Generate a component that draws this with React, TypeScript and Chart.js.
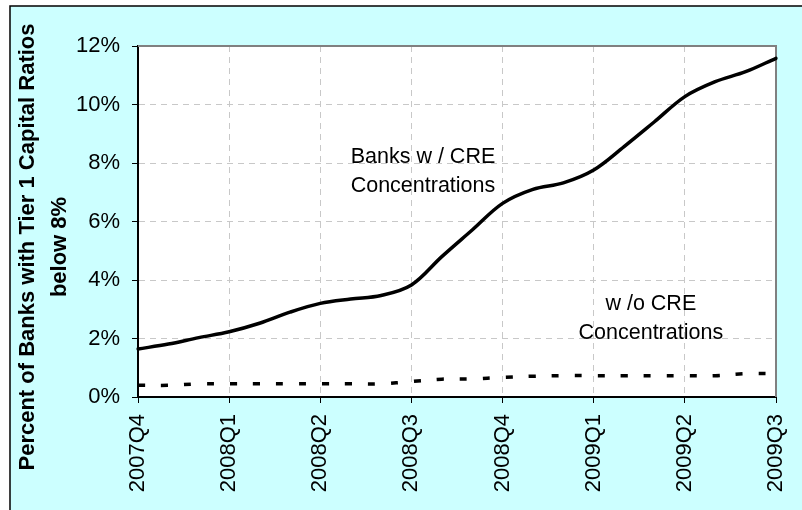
import React, { useEffect, useRef } from 'react';
import { Chart, registerables } from 'chart.js';

Chart.register(...registerables);

// Monthly observations, Dec 2007 through Sep 2009
const months = [
  'Dec 2007', 'Jan 2008', 'Feb 2008', 'Mar 2008', 'Apr 2008', 'May 2008', 'Jun 2008',
  'Jul 2008', 'Aug 2008', 'Sep 2008', 'Oct 2008', 'Nov 2008', 'Dec 2008', 'Jan 2009',
  'Feb 2009', 'Mar 2009', 'Apr 2009', 'May 2009', 'Jun 2009', 'Jul 2009', 'Aug 2009', 'Sep 2009',
];

// Quarter-end tick labels (every third month)
const quarterLabels = ['2007Q4', '2008Q1', '2008Q2', '2008Q3', '2008Q4', '2009Q1', '2009Q2', '2009Q3'];

// Percent of banks with Tier 1 capital ratio below 8%
const withCre = [
  1.64, 1.81, 2.03, 2.23, 2.52, 2.9, 3.2, 3.35, 3.47, 3.83, 4.8,
  5.71, 6.62, 7.1, 7.32, 7.76, 8.56, 9.41, 10.27, 10.78, 11.12, 11.58,
];
const withoutCre = [
  0.4, 0.4, 0.45, 0.45, 0.45, 0.45, 0.45, 0.45, 0.45, 0.53, 0.61,
  0.62, 0.67, 0.71, 0.73, 0.73, 0.73, 0.73, 0.73, 0.73, 0.8, 0.8,
];

const yMin = 0;
const yMax = 12;
const yStep = 2;

const yTitle = ['Percent of Banks with Tier 1 Capital Ratios', 'below 8%'];

// In-plot series labels: x in month index, y = baseline of first line in percent
const seriesNotes = [
  { lines: ['Banks w / CRE', 'Concentrations'], x: 9.38, y: 8.0 },
  { lines: ['w /o CRE', 'Concentrations'], x: 16.88, y: 2.98 },
];

const FONT = '"Liberation Sans", Arial, Helvetica, sans-serif';
const GRID = '#c8c8c8';

const decor = {
  id: 'decor',
  beforeDraw(chart: any) {
    const { ctx, width, height, chartArea: a } = chart;
    ctx.save();
    ctx.fillStyle = '#ffffff';
    ctx.fillRect(0, 0, width, height);
    ctx.fillStyle = '#ccffff';
    ctx.fillRect(10, 6, width - 10, height - 6);
    ctx.strokeStyle = '#000000';
    ctx.lineWidth = 1.5;
    ctx.beginPath();
    ctx.moveTo(10, height);
    ctx.lineTo(10, 6);
    ctx.lineTo(width, 6);
    ctx.stroke();
    ctx.fillStyle = '#ffffff';
    ctx.fillRect(a.left, a.top, a.right - a.left, a.bottom - a.top);
    ctx.restore();
  },
  beforeDatasetsDraw(chart: any) {
    const { ctx, chartArea: a } = chart;
    ctx.save();
    ctx.strokeStyle = '#808080';
    ctx.lineWidth = 2;
    ctx.beginPath();
    ctx.moveTo(a.left, a.top);
    ctx.lineTo(a.right, a.top);
    ctx.lineTo(a.right, a.bottom);
    ctx.stroke();
    ctx.restore();
  },
  afterDraw(chart: any) {
    const { ctx } = chart;
    const xs = chart.scales.x;
    const ys = chart.scales.y;
    ctx.save();
    // rotated axis title
    ctx.fillStyle = '#000000';
    ctx.font = `bold 22px ${FONT}`;
    ctx.textAlign = 'center';
    ctx.textBaseline = 'alphabetic';
    const titleBase = [34, 66];
    yTitle.forEach((t, i) => {
      ctx.save();
      ctx.translate(titleBase[i], 247);
      ctx.rotate(-Math.PI / 2);
      ctx.fillText(t, 0, 0);
      ctx.restore();
    });
    // series labels
    ctx.font = `21.5px ${FONT}`;
    seriesNotes.forEach((n) => {
      const px = xs.getPixelForValue(n.x);
      const py = ys.getPixelForValue(n.y);
      n.lines.forEach((l, i) => ctx.fillText(l, px, py + i * 29.4));
    });
    ctx.restore();
  },
};

export default function App() {
  const ref = useRef<HTMLCanvasElement>(null);

  useEffect(() => {
    const canvas = ref.current;
    if (!canvas) return;
    const chart = new Chart(canvas, {
      type: 'line',
      data: {
        labels: months,
        datasets: [
          {
            label: 'Banks w / CRE Concentrations',
            data: withCre,
            borderColor: '#000000',
            borderWidth: 3.5,
            pointRadius: 0,
            tension: 0.35,
            borderCapStyle: 'round',
            borderJoinStyle: 'round',
            fill: false,
          },
          {
            label: 'w /o CRE Concentrations',
            data: withoutCre,
            borderColor: '#000000',
            borderWidth: 3.5,
            borderDash: [7, 16],
            borderCapStyle: 'butt',
            pointRadius: 0,
            tension: 0.35,
            fill: false,
          },
        ],
      },
      options: {
        responsive: false,
        animation: false,
        devicePixelRatio: 1,
        layout: { padding: { left: 0, top: 46, right: 26, bottom: 0 } },
        plugins: {
          legend: { display: false },
          tooltip: { enabled: false },
        },
        scales: {
          x: {
            type: 'category',
            offset: false,
            afterFit: (s: any) => {
              s.height = 113;
              s.paddingLeft = 0;
              s.paddingRight = 0;
            },
            grid: {
              color: (c: any) => (c.index % 3 === 0 ? GRID : 'transparent'),
              tickColor: (c: any) => (c.index % 3 === 0 ? '#000000' : 'transparent'),
              tickLength: 6,
              lineWidth: 1,
              drawTicks: true,
            },
            border: { color: '#000000', width: 2, dash: [6, 5] },
            ticks: {
              autoSkip: false,
              minRotation: 90,
              maxRotation: 90,
              padding: 11,
              color: '#000000',
              font: { family: FONT, size: 22 },
              callback: (_v: any, i: number) => (i % 3 === 0 ? quarterLabels[i / 3] : ''),
            },
          },
          y: {
            min: yMin,
            max: yMax,
            afterFit: (s: any) => {
              s.width = 138;
              s.paddingTop = 0;
              s.paddingBottom = 0;
            },
            grid: {
              color: (c: any) => (c.index === 0 ? 'transparent' : GRID),
              tickColor: '#000000',
              tickLength: 6,
              lineWidth: 1,
            },
            border: { color: '#000000', width: 2, dash: [6, 5] },
            ticks: {
              stepSize: yStep,
              padding: 12,
              color: '#000000',
              font: { family: FONT, size: 22 },
              callback: (v: any) => `${v}%`,
            },
          },
        },
      },
      plugins: [decor],
    } as any);
    return () => chart.destroy();
  }, []);

  return (
    <div style={{ position: 'absolute', left: 0, top: 0, width: 802, height: 510, overflow: 'hidden' }}>
      <canvas ref={ref} width={802} height={510} style={{ display: 'block', width: 802, height: 510 }} />
    </div>
  );
}
